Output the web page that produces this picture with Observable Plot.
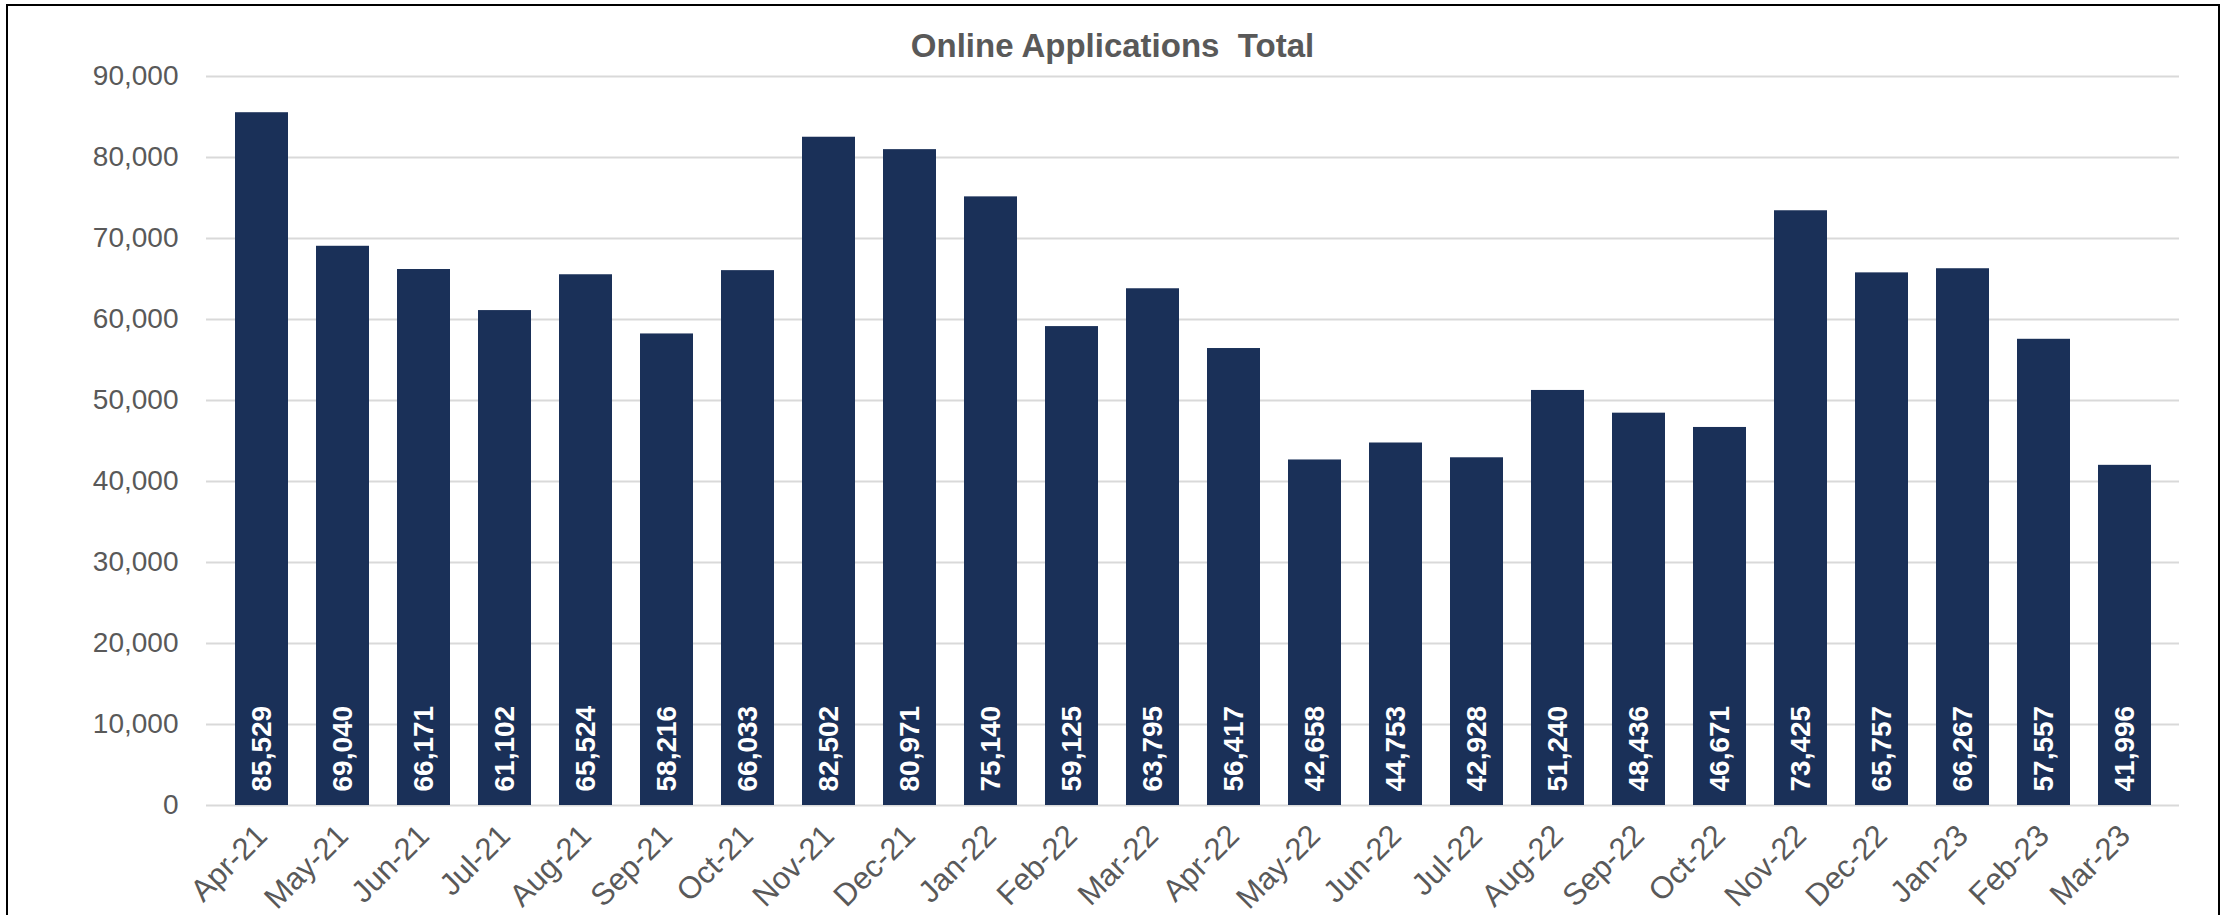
<!DOCTYPE html>
<html><head><meta charset="utf-8">
<script src="https://cdn.jsdelivr.net/npm/d3@7"></script>
<script src="https://cdn.jsdelivr.net/npm/@observablehq/plot@0.6"></script>
<style>
html,body{margin:0;padding:0;background:#fff;width:2231px;height:915px;overflow:hidden;}
#wrap{position:relative;width:2231px;height:915px;}
#frame{position:absolute;left:6px;top:4px;width:2214px;height:1000px;border:2px solid #000;box-sizing:border-box;}
#title{position:absolute;left:7px;width:2211px;top:29px;text-align:center;font:bold 33px "Liberation Sans",Arial,sans-serif;color:#595959;white-space:pre;line-height:33px;}
#chart{position:absolute;left:0;top:0;}
</style></head>
<body><div id="wrap"><div id="frame"></div><div id="title">Online Applications  Total</div><div id="chart"></div></div>
<script>
const months = ["Apr-21","May-21","Jun-21","Jul-21","Aug-21","Sep-21","Oct-21","Nov-21","Dec-21","Jan-22","Feb-22","Mar-22","Apr-22","May-22","Jun-22","Jul-22","Aug-22","Sep-22","Oct-22","Nov-22","Dec-22","Jan-23","Feb-23","Mar-23"];
const applications = [85529,69040,66171,61102,65524,58216,66033,82502,80971,75140,59125,63795,56417,42658,44753,42928,51240,48436,46671,73425,65757,66267,57557,41996];
const yTicks = [0,10000,20000,30000,40000,50000,60000,70000,80000,90000];

const data = months.map((m, i) => ({month: m, value: applications[i]}));
const fmt = d3.format(",");

const chart = Plot.plot({
  width: 2231, height: 915,
  marginLeft: 206, marginRight: 52, marginTop: 76, marginBottom: 110,
  style: {fontFamily: '"Liberation Sans", Arial, sans-serif', color: "#595959", background: "transparent"},
  x: {domain: months, padding: 0.35, label: null},
  y: {domain: [0, 90000], label: null},
  marks: [
    Plot.ruleY(yTicks, {stroke: "#d9d9d9", strokeWidth: 2}),
    Plot.barY(data, {x: "month", y: "value", fill: "#1a3058"}),
    Plot.text(data, {x: "month", y: 0, text: d => fmt(d.value), rotate: -90, textAnchor: "start", dy: -14, fill: "white", fontWeight: "bold", fontSize: 28}),
    Plot.axisY({ticks: yTicks, tickFormat: fmt, tickSize: 0, tickPadding: 28, fontSize: 28, label: null}),
    Plot.axisX({tickRotate: -45, tickSize: 0, tickPadding: 25, fontSize: 31, label: null})
  ]
});
document.getElementById("chart").appendChild(chart);
</script>
</body></html>
